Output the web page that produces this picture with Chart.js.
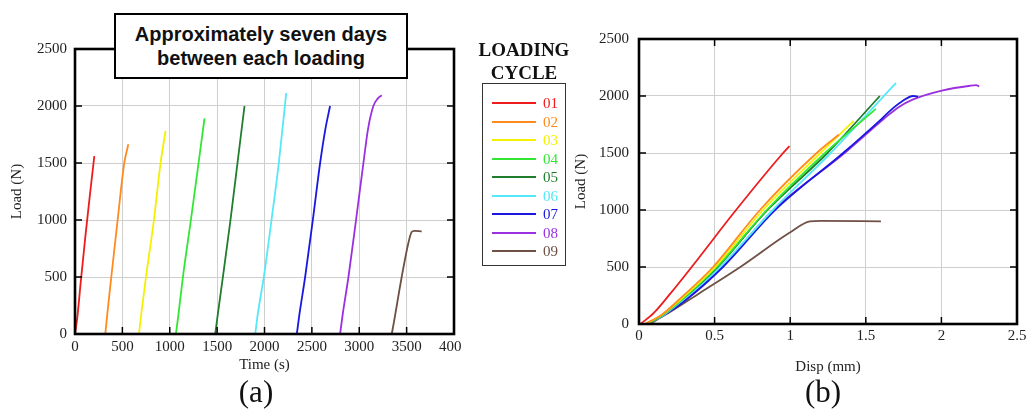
<!DOCTYPE html>
<html><head><meta charset="utf-8">
<script src="https://cdn.jsdelivr.net/npm/chart.js@4.4.1/dist/chart.umd.min.js"></script>
<style>
body{margin:0;width:1031px;height:411px;position:relative;background:#fff;overflow:hidden;font-family:'Liberation Serif',serif;}
canvas{position:absolute;top:0;}
#ca{left:0;}
#cb{left:570px;}
#note{position:absolute;left:114px;top:13px;width:290px;height:62px;border:2px solid #000;background:#fff;
 font-family:'Liberation Sans',Arial,sans-serif;font-weight:bold;font-size:20px;line-height:24px;color:#111;
 display:flex;align-items:center;justify-content:center;text-align:center;}
#lgTitle{position:absolute;left:470px;width:108px;top:38px;text-align:center;font-weight:bold;font-size:19px;line-height:23px;color:#111;}
#lgBox{position:absolute;left:482px;top:83px;width:82px;height:181px;border:1.5px solid #333;}
.row{position:absolute;left:0;height:18px;}
.row i{position:absolute;left:9px;top:8px;width:44px;height:2px;}
.row span{position:absolute;left:60px;top:0;font-size:15px;line-height:18px;}
.cap{position:absolute;font-size:31px;line-height:34px;color:#111;transform:translate(-50%,-50%);}
</style></head>
<body>
<canvas id="ca" width="461" height="411"></canvas>
<canvas id="cb" width="461" height="411"></canvas>
<div id="note">Approximately seven days<br>between each loading</div>
<div id="lgTitle">LOADING<br>CYCLE</div>
<div id="lgBox"></div>
<div class="cap" style="left:256px;top:392px">(a)</div>
<div class="cap" style="left:823px;top:392px">(b)</div>
<script>
const cycles = ['01','02','03','04','05','06','07','08','09'];
const colors = ['#ee1c1c','#ff8a1e','#f4f000','#33e633','#1f7d2c','#55e8f8','#1818e0','#9b30e0','#6e5044'];

// (a) load vs time
const timeA = [
  [0, 25, 60, 110, 160, 204],
  [320, 340, 383, 450, 520, 563],
  [675, 700, 749, 833, 903, 956],
  [1065, 1090, 1139, 1223, 1304, 1367],
  [1480, 1505, 1561, 1641, 1715, 1789],
  [1902, 1930, 1993, 2074, 2151, 2229],
  [2341, 2370, 2429, 2510, 2587, 2643, 2692],
  [2798, 2825, 2886, 2966, 3044, 3093, 3149, 3195, 3237],
  [3343, 3365, 3448, 3519, 3553, 3580, 3659]
];
const loadA = [
  [0, 150, 450, 860, 1240, 1560],
  [0, 170, 500, 1000, 1500, 1664],
  [0, 180, 500, 1000, 1500, 1781],
  [0, 160, 500, 1000, 1500, 1892],
  [0, 160, 500, 1000, 1500, 2000],
  [0, 180, 500, 1000, 1500, 2114],
  [0, 180, 500, 1000, 1500, 1800, 2000],
  [0, 170, 500, 1000, 1500, 1800, 2000, 2065, 2094],
  [0, 100, 500, 800, 895, 905, 900]
];

// (b) load vs displacement
const dispB = [
  [0.01, 0.1, 0.2, 0.36, 0.63, 0.94, 0.995],
  [0.04, 0.15, 0.27, 0.49, 0.80, 1.175, 1.323],
  [0.04, 0.15, 0.28, 0.504, 0.82, 1.2, 1.42],
  [0.05, 0.15, 0.28, 0.515, 0.845, 1.23, 1.567],
  [0.05, 0.15, 0.28, 0.52, 0.85, 1.246, 1.593],
  [0.05, 0.16, 0.29, 0.537, 0.885, 1.268, 1.70],
  [0.05, 0.16, 0.3, 0.555, 0.90, 1.35, 1.605, 1.686, 1.736, 1.813, 1.846],
  [0.05, 0.16, 0.3, 0.548, 0.889, 1.36, 1.62, 1.714, 1.813, 2.01, 2.19, 2.23, 2.25],
  [0.07, 0.2, 0.4, 0.67, 0.995, 1.13, 1.2, 1.6]
];
const loadB = [
  [0, 100, 255, 520, 980, 1480, 1560],
  [0, 80, 220, 500, 1000, 1500, 1662],
  [0, 80, 220, 500, 1000, 1500, 1781],
  [0, 75, 210, 500, 1000, 1500, 1887],
  [0, 75, 210, 500, 1000, 1500, 2000],
  [0, 75, 210, 500, 1000, 1500, 2115],
  [0, 75, 200, 500, 1000, 1500, 1800, 1900, 1950, 2000, 1995],
  [0, 75, 205, 500, 1000, 1500, 1800, 1900, 1970, 2050, 2090, 2095, 2085],
  [0, 100, 270, 500, 800, 900, 905, 900]
];

const ticksLoad = [0, 500, 1000, 1500, 2000, 2500];
const ticksTime = [0, 500, 1000, 1500, 2000, 2500, 3000, 3500, 4000];
const ticksDisp = [0, 0.5, 1, 1.5, 2, 2.5];
const labelsLoad = ['0','500','1000','1500','2000','2500'];
const labelsTime = ['0','500','1000','1500','2000','2500','3000','3500','4000'];
const labelsDisp = ['0','0.5','1','1.5','2','2.5'];

// legend (HTML)
const lg = document.getElementById('lgBox');
cycles.forEach((c, i) => {
  const r = document.createElement('div');
  r.className = 'row';
  r.style.top = (10 + i * 18.5) + 'px';
  r.style.width = '82px';
  r.innerHTML = '<i style="background:' + colors[i] + '"></i><span style="color:' + colors[i] + '">' + c + '</span>';
  lg.appendChild(r);
});

const frame = {
  id: 'frame',
  afterDraw(chart) {
    const ctx = chart.ctx, a = chart.chartArea, L = 7;
    ctx.save();
    ctx.strokeStyle = '#000';
    ctx.lineWidth = 1.5;
    ctx.beginPath();
    chart.scales.x.ticks.forEach(t => {
      const p = chart.scales.x.getPixelForValue(t.value);
      ctx.moveTo(p, a.bottom); ctx.lineTo(p, a.bottom - L);
      ctx.moveTo(p, a.top); ctx.lineTo(p, a.top + L);
    });
    chart.scales.y.ticks.forEach(t => {
      const p = chart.scales.y.getPixelForValue(t.value);
      ctx.moveTo(a.left, p); ctx.lineTo(a.left + L, p);
      ctx.moveTo(a.right, p); ctx.lineTo(a.right - L, p);
    });
    ctx.stroke();
    ctx.lineWidth = 2.6;
    ctx.strokeRect(a.left, a.top, a.right - a.left, a.bottom - a.top);
    ctx.restore();
  }
};

const tickFont = {family: "'Liberation Serif', serif", size: 15};
function mkScale(vals, labels, min, max, title, isX, fit, pad, tpad) {
  return {
    type: 'linear', min: min, max: max,
    afterBuildTicks: s => { s.ticks = vals.map(v => ({value: v})); },
    afterFit: isX ? s => { s.height = fit; s.paddingLeft = 0; s.paddingRight = 0; }
                  : s => { s.width = fit; s.paddingTop = 0; s.paddingBottom = 0; },
    ticks: {autoSkip: false, maxRotation: 0, padding: pad, color: '#222', font: tickFont,
      callback: (v) => { const k = vals.indexOf(v); return k >= 0 ? labels[k] : ''; }},
    grid: {color: '#cfcfcf', lineWidth: 1, drawTicks: false},
    border: {display: false},
    title: {display: true, text: title, color: '#222', font: tickFont,
      padding: isX ? {top: 0, bottom: tpad} : {top: tpad, bottom: 0}}
  };
}

function datasets(xs, ys) {
  return cycles.map((c, i) => ({
    label: c,
    data: xs[i].map((x, j) => ({x: x, y: ys[i][j]})),
    borderColor: colors[i], backgroundColor: colors[i],
    borderWidth: 1.8, pointRadius: 0, showLine: true, cubicInterpolationMode: 'monotone'
  }));
}

const common = {
  responsive: false, animation: false, devicePixelRatio: 1,
  plugins: {legend: {display: false}, tooltip: {enabled: false}}
};

new Chart(document.getElementById('ca'), {
  type: 'scatter',
  data: {datasets: datasets(timeA, loadA)},
  options: Object.assign({}, common, {
    layout: {padding: {left: 0, right: 7, top: 49, bottom: 0}},
    scales: {
      x: mkScale(ticksTime, labelsTime, 0, 4000, 'Time (s)', true, 77, 4, 37),
      y: mkScale(ticksLoad, labelsLoad, 0, 2500, 'Load (N)', false, 75, 8, 8)
    }
  }),
  plugins: [frame]
});

new Chart(document.getElementById('cb'), {
  type: 'scatter',
  data: {datasets: datasets(dispB, loadB)},
  options: Object.assign({}, common, {
    layout: {padding: {left: 0, right: 14, top: 39, bottom: 0}},
    scales: {
      x: mkScale(ticksDisp, labelsDisp, 0, 2.5, 'Disp (mm)', true, 87, 3, 35),
      y: mkScale(ticksLoad, labelsLoad, 0, 2500, 'Load (N)', false, 69, 10, 2)
    }
  }),
  plugins: [frame]
});
</script>
</body></html>
